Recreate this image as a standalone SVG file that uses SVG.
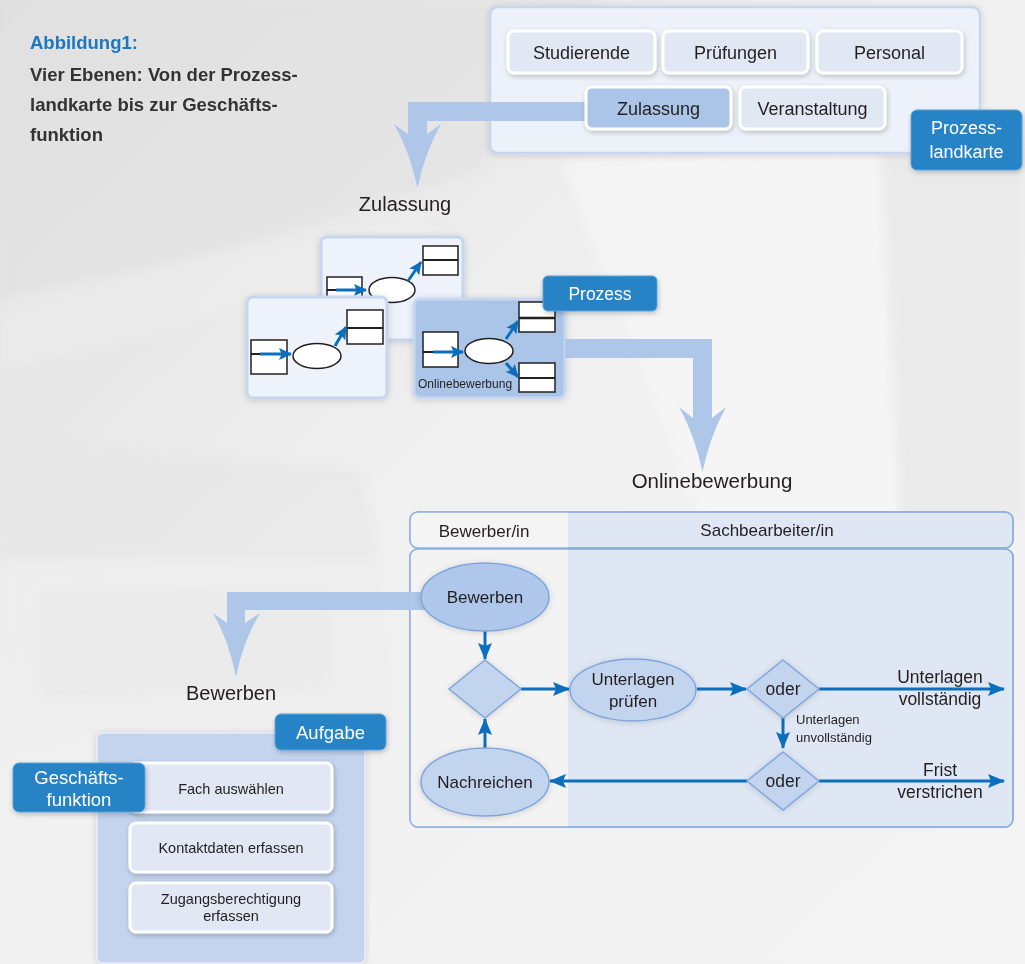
<svg xmlns="http://www.w3.org/2000/svg" width="1025" height="964" viewBox="0 0 1025 964">
<defs>
<linearGradient id="bg" x1="0" y1="0" x2="1" y2="1">
<stop offset="0" stop-color="#dfdfdf"/>
<stop offset="0.45" stop-color="#f0f0f0"/>
<stop offset="1" stop-color="#f4f4f4"/>
</linearGradient>
<filter id="sh" x="-20%" y="-20%" width="150%" height="160%">
<feDropShadow dx="1" dy="2" stdDeviation="2.5" flood-color="#000" flood-opacity="0.22"/>
</filter>
<filter id="sh2" x="-10%" y="-10%" width="130%" height="130%">
<feDropShadow dx="0" dy="1" stdDeviation="3" flood-color="#000" flood-opacity="0.15"/>
</filter>
<filter id="blur" x="-10%" y="-10%" width="120%" height="120%">
<feGaussianBlur stdDeviation="6"/>
</filter>
<marker id="ah" markerUnits="userSpaceOnUse" markerWidth="18" markerHeight="14" refX="16" refY="7" orient="auto">
<path d="M0,0 L17,7 L0,14 L3,7 z" fill="#0b6fbe"/>
</marker>
<marker id="ah2" markerUnits="userSpaceOnUse" markerWidth="14" markerHeight="12" refX="12" refY="6" orient="auto">
<path d="M0,0 L13,6 L0,12 L2.5,6 z" fill="#0b6fbe"/>
</marker>
<style>
.t{font-family:"Liberation Sans",Arial,sans-serif;fill:#231f20}
.lt{font-family:"Liberation Sans",Arial,sans-serif;fill:#ffffff}
.btn{fill:#e1e8f4;stroke:#ffffff;stroke-width:3}
.lbl{fill:#2683c6;stroke:#5aa2d9;stroke-width:1}
.card{fill:#eef2fa;stroke:#c6d6ef;stroke-width:3}
.ic{fill:#ffffff;stroke:#231f20;stroke-width:1.5}
.icl{stroke:#231f20;stroke-width:2;fill:none}
.ica{stroke:#0b6fbe;stroke-width:3;fill:none}
.conn{stroke:#0b6fbe;stroke-width:3;fill:none}
.big{fill:#aec6e8}
.ell{fill:#c3d4ef;stroke:#7ea6dc;stroke-width:1.5}
.dia{fill:#c3d4ef;stroke:#7ea6dc;stroke-width:1.5}
</style>
</defs>

<!-- background -->
<rect x="0" y="0" width="1025" height="964" fill="url(#bg)"/>
<g filter="url(#blur)">
<polygon points="0,0 600,0 480,170 0,320" fill="#e1e1e1" opacity="0.6"/>
<polygon points="0,300 420,210 470,260 0,370" fill="#ededed" opacity="0.7"/>
<polygon points="0,440 360,470 380,560 0,560" fill="#e6e6e6" opacity="0.6"/>
<polygon points="0,560 380,560 400,720 0,760" fill="#eeeeee" opacity="0.7"/>
<polygon points="40,590 330,590 330,690 40,700" fill="#e8e8e8" opacity="0.5"/>
<polygon points="880,150 1025,140 1025,520 900,520" fill="#e6e6e6" opacity="0.6"/>
<polygon points="560,160 880,150 900,520 700,520" fill="#f6f6f6" opacity="0.7"/>
<polygon points="0,760 100,740 100,964 0,964" fill="#f1f1f1" opacity="0.7"/>
</g>

<!-- caption -->
<g id="caption">
<text class="t" x="30" y="49" font-size="18.5" font-weight="bold" style="fill:#1b77c0">Abbildung1:</text>
<text class="t" x="30" y="81" font-size="18.5" font-weight="bold" style="fill:#333333">Vier Ebenen: Von der Prozess-</text>
<text class="t" x="30" y="111" font-size="18.5" font-weight="bold" style="fill:#333333">landkarte bis zur Geschäfts-</text>
<text class="t" x="30" y="141" font-size="18.5" font-weight="bold" style="fill:#333333">funktion</text>
</g>

<!-- containers -->
<g id="prozesslandkarte-container">
<rect x="490" y="7" width="490" height="146" rx="8" fill="#edf2fa" stroke="#c6d6ef" stroke-width="2.5" filter="url(#sh2)"/>
</g>

<g id="card-a">
<rect class="card" x="321" y="237" width="142" height="103" rx="6" filter="url(#sh2)"/>
<rect class="ic" x="327" y="277" width="35" height="34"/>
<line class="icl" x1="327" y1="290" x2="362" y2="290"/>
<line class="ica" x1="336" y1="290" x2="366" y2="290" marker-end="url(#ah2)"/>
<ellipse cx="392" cy="290" rx="23" ry="12.5" fill="#fff" stroke="#231f20" stroke-width="1.5"/>
<rect class="ic" x="423" y="246" width="35" height="29"/>
<line class="icl" x1="423" y1="260" x2="458" y2="260"/>
<line class="ica" x1="408" y1="281" x2="421" y2="262" marker-end="url(#ah2)"/>
</g>

<g id="card-b">
<rect class="card" x="247" y="297" width="140" height="101" rx="6" filter="url(#sh2)"/>
<rect class="ic" x="251" y="340" width="36" height="34"/>
<line class="icl" x1="251" y1="354" x2="287" y2="354"/>
<line class="ica" x1="260" y1="354" x2="291" y2="354" marker-end="url(#ah2)"/>
<ellipse cx="317" cy="356" rx="24" ry="12.5" fill="#fff" stroke="#231f20" stroke-width="1.5"/>
<rect class="ic" x="347" y="310" width="36" height="34"/>
<line class="icl" x1="347" y1="328" x2="383" y2="328"/>
<line class="ica" x1="335" y1="346" x2="346" y2="327" marker-end="url(#ah2)"/>
</g>

<g id="card-c">
<rect x="414" y="299" width="151" height="99" rx="6" fill="#abc5e8" stroke="#c9d8f0" stroke-width="3" filter="url(#sh2)"/>
<rect class="ic" x="423" y="332" width="35" height="35"/>
<line class="icl" x1="423" y1="352" x2="458" y2="352"/>
<line class="ica" x1="433" y1="352" x2="463" y2="352" marker-end="url(#ah2)"/>
<ellipse cx="489" cy="351" rx="24" ry="12.5" fill="#fff" stroke="#231f20" stroke-width="1.5"/>
<rect class="ic" x="519" y="302" width="36" height="30"/>
<line x1="519" y1="318" x2="555" y2="318" stroke="#231f20" stroke-width="2.5"/>
<rect class="ic" x="519" y="363" width="36" height="29"/>
<line class="icl" x1="519" y1="378" x2="555" y2="378"/>
<line class="ica" x1="506" y1="339" x2="518" y2="321" marker-end="url(#ah2)"/>
<line class="ica" x1="506" y1="363" x2="518" y2="377" marker-end="url(#ah2)"/>
<text class="t" x="418" y="388" font-size="12">Onlinebewerbung</text>
</g>

<g id="swimlane">
<rect x="410" y="512" width="603" height="36" rx="8" fill="#dfe7f4" stroke="#8fb0de" stroke-width="1.5"/>
<path d="M418,512 L568,512 L568,548 L418,548 Q410,548 410,540 L410,520 Q410,512 418,512 z" fill="#f4f4f4"/>
<rect x="410" y="512" width="603" height="36" rx="8" fill="none" stroke="#8fb0de" stroke-width="1.5"/>
<rect x="410" y="549" width="603" height="278" rx="8" fill="#dfe7f4" stroke="#8fb0de" stroke-width="1.5"/>
<path d="M418,549 L568,549 L568,827 L418,827 Q410,827 410,819 L410,557 Q410,549 418,549 z" fill="#f3f3f3"/>
<rect x="410" y="549" width="603" height="278" rx="8" fill="none" stroke="#8fb0de" stroke-width="1.5"/>
<text class="t" x="484" y="537" font-size="17" text-anchor="middle">Bewerber/in</text>
<text class="t" x="767" y="536" font-size="17" text-anchor="middle">Sachbearbeiter/in</text>
</g>

<g id="aufgabe-container">
<rect x="97" y="733" width="268" height="230" rx="6" fill="#c4d3ee" stroke="#e6ecf7" stroke-width="1.5" filter="url(#sh2)"/>
</g>

<!-- connectors -->
<g id="connectors">
<path class="big" d="M586,102 L408,102 L408,134 L394,124 Q410,152 417.5,188 Q425,152 441,124 L427,134 L427,121 L586,121 z"/>
<path class="big" d="M565,339 L712,339 L712,418 L726,407 Q710,436 702.5,472 Q695,436 679,407 L693,418 L693,358 L565,358 z"/>
<path class="big" d="M440,592 L227,592 L227,623 L213,613 Q229,641 236,677 Q243,641 260,613 L245,623 L245,610 L440,610 z"/>
<line class="conn" x1="485" y1="631" x2="485" y2="659" marker-end="url(#ah)"/>
<line class="conn" x1="521" y1="689" x2="569" y2="689" marker-end="url(#ah)"/>
<line class="conn" x1="697" y1="689" x2="746" y2="689" marker-end="url(#ah)"/>
<line class="conn" x1="819" y1="689" x2="1004" y2="689" marker-end="url(#ah)"/>
<line class="conn" x1="783" y1="718" x2="783" y2="748" marker-end="url(#ah)"/>
<line class="conn" x1="747" y1="781" x2="550" y2="781" marker-end="url(#ah)"/>
<line class="conn" x1="819" y1="781" x2="1004" y2="781" marker-end="url(#ah)"/>
<line class="conn" x1="485" y1="748" x2="485" y2="719" marker-end="url(#ah)"/>
<text class="t" x="940" y="683" font-size="17.5" text-anchor="middle">Unterlagen</text>
<text class="t" x="940" y="705" font-size="17.5" text-anchor="middle">vollständig</text>
<text class="t" x="796" y="724" font-size="13">Unterlagen</text>
<text class="t" x="796" y="742" font-size="13">unvollständig</text>
<text class="t" x="940" y="776" font-size="17.5" text-anchor="middle">Frist</text>
<text class="t" x="940" y="798" font-size="17.5" text-anchor="middle">verstrichen</text>
</g>

<!-- process map nodes -->
<g id="studierende">
<rect class="btn" x="508" y="31" width="147" height="42" rx="6" filter="url(#sh)"/>
<text class="t" x="581.5" y="58.5" font-size="18" text-anchor="middle">Studierende</text>
</g>
<g id="pruefungen">
<rect class="btn" x="663" y="31" width="145" height="42" rx="6" filter="url(#sh)"/>
<text class="t" x="735.5" y="58.5" font-size="18" text-anchor="middle">Prüfungen</text>
</g>
<g id="personal">
<rect class="btn" x="817" y="31" width="145" height="42" rx="6" filter="url(#sh)"/>
<text class="t" x="889.5" y="58.5" font-size="18" text-anchor="middle">Personal</text>
</g>
<g id="zulassung">
<rect x="586" y="87" width="145" height="42" rx="6" fill="#abc5e8" stroke="#ffffff" stroke-width="3" filter="url(#sh)"/>
<text class="t" x="658.5" y="115" font-size="18" text-anchor="middle">Zulassung</text>
</g>
<g id="veranstaltung">
<rect class="btn" x="740" y="87" width="145" height="42" rx="6" filter="url(#sh)"/>
<text class="t" x="812.5" y="115" font-size="18" text-anchor="middle">Veranstaltung</text>
</g>
<g id="label-prozesslandkarte">
<rect class="lbl" x="911" y="110" width="111" height="60" rx="6" filter="url(#sh)"/>
<text class="lt" x="966.5" y="134" font-size="18" text-anchor="middle">Prozess-</text>
<text class="lt" x="966.5" y="158" font-size="18" text-anchor="middle">landkarte</text>
</g>

<g id="title-zulassung">
<text class="t" x="405" y="211" font-size="20" text-anchor="middle">Zulassung</text>
</g>
<g id="label-prozess">
<rect class="lbl" x="543" y="276" width="114" height="35" rx="5" filter="url(#sh)"/>
<text class="lt" x="600" y="300" font-size="17.5" text-anchor="middle">Prozess</text>
</g>
<g id="title-onlinebewerbung">
<text class="t" x="712" y="488" font-size="20.5" text-anchor="middle">Onlinebewerbung</text>
</g>

<!-- swimlane nodes -->
<g id="bewerben">
<ellipse cx="485" cy="597" rx="64" ry="34" fill="#aec7ea" stroke="#7ea6dc" stroke-width="1.5" filter="url(#sh2)"/>
<text class="t" x="485" y="603" font-size="17" text-anchor="middle">Bewerben</text>
</g>
<g id="merge">
<polygon class="dia" points="485,660 521,689 485,718 449,689" filter="url(#sh2)"/>
</g>
<g id="unterlagen-pruefen">
<ellipse class="ell" cx="633" cy="690" rx="63" ry="31" filter="url(#sh2)"/>
<text class="t" x="633" y="685" font-size="17" text-anchor="middle">Unterlagen</text>
<text class="t" x="633" y="707" font-size="17" text-anchor="middle">prüfen</text>
</g>
<g id="oder1">
<polygon class="dia" points="783,660 819,689 783,718 747,689" filter="url(#sh2)"/>
<text class="t" x="783" y="695" font-size="17.5" text-anchor="middle">oder</text>
</g>
<g id="oder2">
<polygon class="dia" points="783,752 819,781 783,810 747,781" filter="url(#sh2)"/>
<text class="t" x="783" y="787" font-size="17.5" text-anchor="middle">oder</text>
</g>
<g id="nachreichen">
<ellipse class="ell" cx="485" cy="782" rx="64" ry="34" filter="url(#sh2)"/>
<text class="t" x="485" y="788" font-size="17" text-anchor="middle">Nachreichen</text>
</g>

<g id="title-bewerben">
<text class="t" x="231" y="700" font-size="20" text-anchor="middle">Bewerben</text>
</g>

<!-- task nodes -->
<g id="label-aufgabe">
<rect class="lbl" x="275" y="714" width="111" height="36" rx="6" filter="url(#sh)"/>
<text class="lt" x="330.5" y="739" font-size="18.5" text-anchor="middle">Aufgabe</text>
</g>
<g id="fach-auswaehlen">
<rect class="btn" x="130" y="763" width="202" height="49" rx="6" filter="url(#sh)"/>
<text class="t" x="231" y="794" font-size="14.5" text-anchor="middle">Fach auswählen</text>
</g>
<g id="kontaktdaten-erfassen">
<rect class="btn" x="130" y="823" width="202" height="49" rx="6" filter="url(#sh)"/>
<text class="t" x="231" y="853" font-size="14.5" text-anchor="middle">Kontaktdaten erfassen</text>
</g>
<g id="zugangsberechtigung-erfassen">
<rect class="btn" x="130" y="883" width="202" height="49" rx="6" filter="url(#sh)"/>
<text class="t" x="231" y="904" font-size="14.5" text-anchor="middle">Zugangsberechtigung</text>
<text class="t" x="231" y="921" font-size="14.5" text-anchor="middle">erfassen</text>
</g>
<g id="label-geschaeftsfunktion">
<rect class="lbl" x="13" y="763" width="132" height="49" rx="6" filter="url(#sh)"/>
<text class="lt" x="79" y="784" font-size="18.5" text-anchor="middle">Geschäfts-</text>
<text class="lt" x="79" y="806" font-size="18.5" text-anchor="middle">funktion</text>
</g>
</svg>
